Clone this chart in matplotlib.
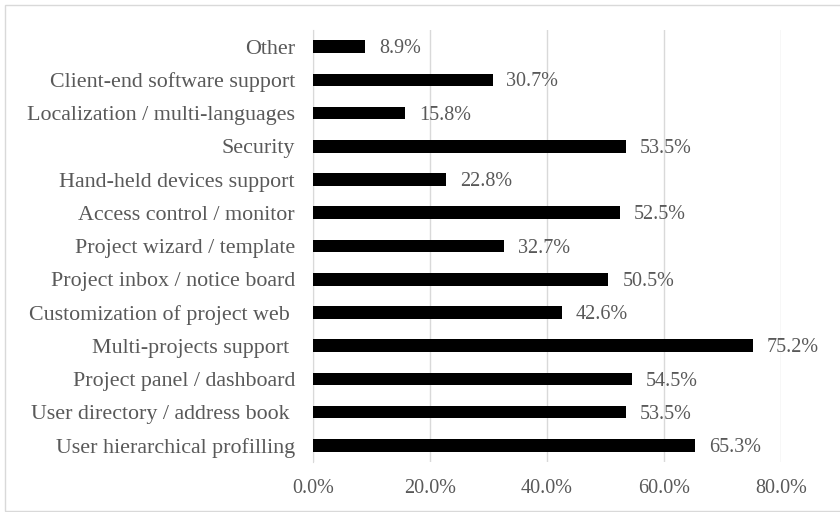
import matplotlib.pyplot as plt
from matplotlib.patches import Rectangle

features = ['User hierarchical profilling', 'User directory / address book ',
            'Project panel / dashboard', 'Multi-projects support ',
            'Customization of project web ', 'Project inbox / notice board',
            'Project wizard / template', 'Access control / monitor',
            'Hand-held devices support', 'Security',
            'Localization / multi-languages', 'Client-end software support',
            'Other']
percent = [65.3, 53.5, 54.5, 75.2, 42.6, 50.5, 32.7, 52.5, 22.8, 53.5, 15.8, 30.7, 8.9]
ticks = [0, 20, 40, 60, 80]

plt.rcParams['font.family'] = 'Liberation Serif'
grey = '#595959'

fig = plt.figure(figsize=(8.4, 5.12), dpi=100)
ax = fig.add_axes([313 / 840, 50 / 512, 468 / 840, 432 / 512])

y = range(len(features))
ax.barh(y, percent, height=0.38, color='black', zorder=3)
for yi, v in zip(y, percent):
    ax.annotate(f'{v:.1f}%', (v, yi), xytext=(10, -1.5), textcoords='offset points',
                va='center', ha='left', fontsize=14.5, color=grey)

ax.set_xlim(0, 80)
ax.set_ylim(-0.5, len(features) - 0.5)
ax.set_xticks(ticks)
ax.set_xticklabels([f'{t:.1f}%' for t in ticks], fontsize=14.5, color=grey)
ax.set_yticks(list(y))
ax.set_yticklabels(features, fontsize=15.8, color=grey)
ax.tick_params(length=0, pad=12)
ax.tick_params(axis='y', pad=13)
ax.grid(axis='x', color='#d9d9d9', linewidth=1, zorder=0)
for s in ['top', 'right', 'bottom']:
    ax.spines[s].set_visible(False)
ax.spines['left'].set_color('#d9d9d9')

# light frame around the chart, running off the right edge
fig.patches.append(Rectangle((5 / 840, 1 / 512), 840 / 840, 506 / 512,
                             transform=fig.transFigure, fill=False,
                             edgecolor='#d9d9d9', linewidth=1))

fig.savefig('out.png', dpi=100)
